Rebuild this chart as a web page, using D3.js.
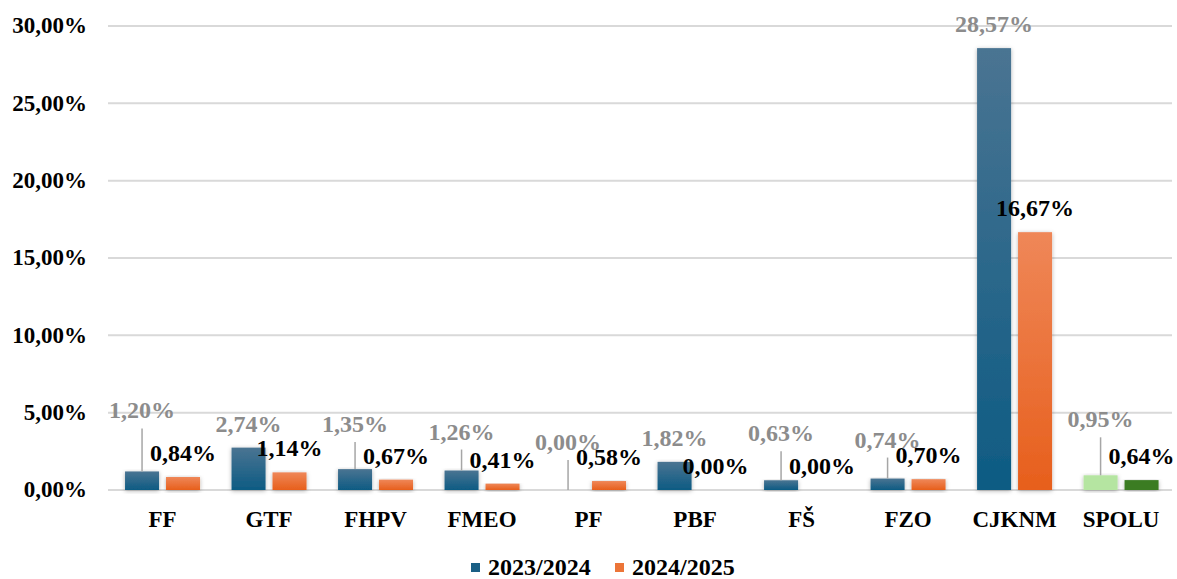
<!DOCTYPE html>
<html><head><meta charset="utf-8">
<script src="https://cdn.jsdelivr.net/npm/d3@7/dist/d3.min.js"></script>
<style>body{margin:0;background:#fff}svg{display:block}</style>
</head><body>
<svg id="c" width="1177" height="579"></svg>
<script>
const categories = ["FF","GTF","FHPV","FMEO","PF","PBF","FŠ","FZO","CJKNM","SPOLU"];
const series1Name = "2023/2024";
const series2Name = "2024/2025";
const series1 = [1.20, 2.74, 1.35, 1.26, 0.00, 1.82, 0.63, 0.74, 28.57, 0.95];
const series2 = [0.84, 1.14, 0.67, 0.41, 0.58, 0.00, 0.00, 0.70, 16.67, 0.64];
const yTicks = [0,5,10,15,20,25,30];
// manual label lifts (px) for series 1 labels, as placed in the original
const labelLift1 = [37,0,21,15,24,0,23,15,0,32];

const fmt = v => v.toFixed(2).replace(".", ",") + "%";
const svg = d3.select("#c");
const FONT = "'Liberation Serif','Times New Roman',serif";

const y = d3.scaleLinear().domain([0,30]).range([490,26]);
const x0 = d3.scaleBand().domain(categories).range([108,1175.6]).paddingInner(0.296).paddingOuter(0.16);
const x1 = d3.scaleBand().domain(["s1","s2"]).range([0,x0.bandwidth()]).paddingInner(0.17);

const defs = svg.append("defs");
function grad(id, top, bottom){
  const g = defs.append("linearGradient").attr("id",id).attr("x1",0).attr("y1",0).attr("x2",0).attr("y2",1);
  g.append("stop").attr("offset","0%").attr("stop-color",top);
  g.append("stop").attr("offset","100%").attr("stop-color",bottom);
}
grad("gBlue","#4a7492","#0d5b83");
grad("gOrange","#ef8758","#e75f1c");
const f = defs.append("filter").attr("id","sh").attr("x","-30%").attr("y","-10%").attr("width","160%").attr("height","130%");
f.append("feDropShadow").attr("dx",0).attr("dy",1).attr("stdDeviation",2.2).attr("flood-color","#000").attr("flood-opacity",0.3);

// gridlines
svg.append("g").selectAll("line").data(yTicks).join("line")
  .attr("x1",108).attr("x2",1172).attr("y1",d=>y(d)).attr("y2",d=>y(d))
  .attr("stroke","#d9d9d9").attr("stroke-width",2);

// y axis labels
const yAxis = d3.axisLeft(y).tickValues(yTicks).tickFormat(fmt).tickSize(0).tickPadding(0);
const ya = svg.append("g").attr("transform","translate(87,0)").call(yAxis);
ya.select(".domain").remove();
ya.selectAll("text").attr("font-family",FONT).attr("font-weight","bold").attr("font-size",23).attr("fill","#000").attr("dy","0.3em");

// x axis labels
const xAxis = d3.axisBottom(x0).tickSize(0).tickPadding(0);
const xa = svg.append("g").attr("transform","translate(0,510)").call(xAxis);
xa.select(".domain").remove();
xa.selectAll("text").attr("font-family",FONT).attr("font-weight","bold").attr("font-size",23).attr("fill","#000").attr("dy","0.75em");

const fill1 = (i) => categories[i]==="SPOLU" ? "#b5e5a1" : "url(#gBlue)";
const fill2 = (i) => categories[i]==="SPOLU" ? "#3b7c24" : "url(#gOrange)";

const bars = svg.append("g");
categories.forEach((c,i)=>{
  const g = bars.append("g").attr("transform",`translate(${x0(c)},0)`);
  if (series1[i] > 0) g.append("rect").attr("x",x1("s1")).attr("width",x1.bandwidth())
    .attr("y",y(series1[i])).attr("height",y(0)-y(series1[i])).attr("fill",fill1(i)).attr("filter","url(#sh)");
  if (series2[i] > 0) g.append("rect").attr("x",x1("s2")).attr("width",x1.bandwidth())
    .attr("y",y(series2[i])).attr("height",y(0)-y(series2[i])).attr("fill",fill2(i)).attr("filter","url(#sh)");
});

// labels
const labels = svg.append("g").attr("font-family",FONT).attr("font-weight","bold").attr("font-size",24).attr("text-anchor","middle");
categories.forEach((c,i)=>{
  const cx1 = x0(c) + x1("s1") + x1.bandwidth()/2;
  const cx2 = x0(c) + x1("s2") + x1.bandwidth()/2;
  const b1 = y(series1[i]) - 16 - labelLift1[i];
  if (labelLift1[i] > 12) {
    labels.append("line").attr("x1",cx1).attr("x2",cx1).attr("y1",b1+10).attr("y2",y(series1[i]))
      .attr("stroke","#a6a6a6").attr("stroke-width",1.5);
  }
  labels.append("text").attr("x",cx1).attr("y",b1).attr("fill","#8c8c8c").text(fmt(series1[i]));
  labels.append("text").attr("x",cx2).attr("y",y(series2[i]) - 16).attr("fill","#000").text(fmt(series2[i]));
});

// legend
const leg = svg.append("g").attr("font-family",FONT).attr("font-weight","bold").attr("font-size",24);
const legItems = [{name:series1Name, color:"#1a5f85", x:471},{name:series2Name, color:"#ec7538", x:615}];
legItems.forEach(d=>{
  leg.append("rect").attr("x",d.x).attr("y",563).attr("width",9).attr("height",9).attr("fill",d.color);
  leg.append("text").attr("x",d.x+17).attr("y",575).attr("fill","#000").text(d.name);
});
</script>
</body></html>
